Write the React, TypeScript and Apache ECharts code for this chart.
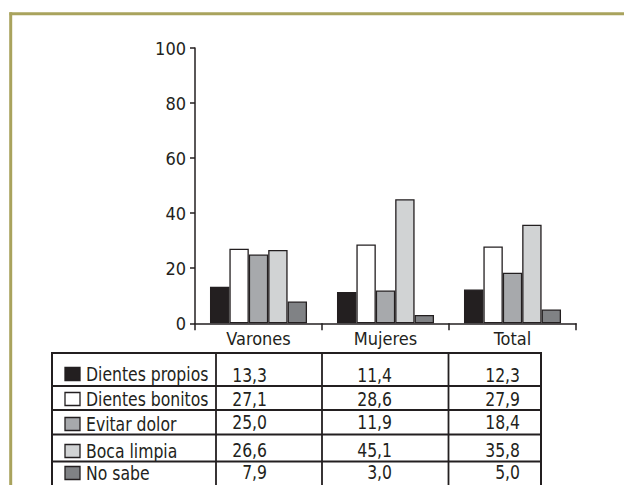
import React, { useEffect, useRef } from "react";
import * as echarts from "echarts";

const categories = ["Varones", "Mujeres", "Total"];
const seriesNames = ["Dientes propios", "Dientes bonitos", "Evitar dolor", "Boca limpia", "No sabe"];
const dientesPropios = [13.3, 11.4, 12.3];
const dientesBonitos = [27.1, 28.6, 27.9];
const evitarDolor = [25.0, 11.9, 18.4];
const bocaLimpia = [26.6, 45.1, 35.8];
const noSabe = [7.9, 3.0, 5.0];
const yTicks = [0, 20, 40, 60, 80, 100];

const FONT = "'Liberation Sans Narrow', 'DejaVu Sans Condensed', 'Arial Narrow', sans-serif";
const INK = "#231f20";
const COLORS = ["#231f20", "#ffffff", "#a7a9ac", "#d1d3d4", "#808285"];
const FRAME = "#a9a35d";

export default function App() {
  const ref = useRef<HTMLDivElement>(null);
  useEffect(() => {
    if (!ref.current) return;
    const chart = echarts.init(ref.current, undefined, { renderer: "svg" });
    const allSeries = [dientesPropios, dientesBonitos, evitarDolor, bocaLimpia, noSabe];

    // table layout
    const tLeft = 52, tTop = 353, tRight = 541, tBottom = 505;
    const colLines = [216, 322, 448.5];
    const rowLines = [386, 410, 434.5, 461.5];
    const labelY = [374, 399, 424, 451, 473];
    const valueY = [375, 399.5, 422, 450, 472];
    const valueX = [267, 392, 520];
    const SX = 0.87;

    const graphics: any[] = [];
    // frame
    graphics.push({ type: "line", shape: { x1: 9.5, y1: 13.7, x2: 624, y2: 13.7 }, style: { stroke: FRAME, lineWidth: 3 }, silent: true });
    graphics.push({ type: "line", shape: { x1: 10.7, y1: 12.2, x2: 10.7, y2: 485 }, style: { stroke: FRAME, lineWidth: 3 }, silent: true });
    // table
    graphics.push({ type: "rect", shape: { x: tLeft, y: tTop, width: tRight - tLeft, height: tBottom - tTop }, style: { fill: "none", stroke: INK, lineWidth: 2 }, silent: true });
    colLines.forEach((x) => graphics.push({ type: "line", shape: { x1: x, y1: tTop, x2: x, y2: tBottom }, style: { stroke: INK, lineWidth: 1.8 }, silent: true }));
    rowLines.forEach((y) => graphics.push({ type: "line", shape: { x1: tLeft, y1: y, x2: tRight, y2: y }, style: { stroke: INK, lineWidth: 1.8 }, silent: true }));
    seriesNames.forEach((name, i) => {
      graphics.push({ type: "rect", shape: { x: 65, y: labelY[i] - 6.5, width: 15, height: 13 }, style: { fill: COLORS[i], stroke: INK, lineWidth: 1.3 }, silent: true });
      graphics.push({ type: "text", x: 86, y: labelY[i], scaleX: SX, style: { text: name, fontFamily: FONT, fontSize: 20, lineHeight: 18, fill: INK, textVerticalAlign: "middle", verticalAlign: "middle" }, silent: true });
      allSeries[i].forEach((v, j) => {
        graphics.push({ type: "text", x: valueX[j], y: valueY[i], scaleX: SX, style: { text: v.toFixed(1).replace(".", ","), fontFamily: FONT, fontSize: 20, lineHeight: 18, fill: INK, align: "right", textAlign: "right", verticalAlign: "middle", textVerticalAlign: "middle" }, silent: true });
      });
    });

    chart.setOption({
      animation: false,
      grid: { left: 195, right: 48, top: 48, bottom: 161.7, containLabel: false },
      xAxis: {
        type: "category",
        data: categories,
        axisLine: { lineStyle: { color: INK, width: 1.5 } },
        axisTick: { show: true, length: 7, lineStyle: { color: INK, width: 1.5 } },
        axisLabel: { color: INK, fontFamily: FONT, fontSize: 18, margin: 6 },
      },
      yAxis: {
        type: "value",
        min: 0,
        max: 100,
        interval: 20,
        axisLine: { show: true, lineStyle: { color: INK, width: 1.5 } },
        axisTick: { show: true, length: 5, lineStyle: { color: INK, width: 1.5 } },
        axisLabel: { color: INK, fontFamily: FONT, fontSize: 18, margin: 9, customValues: yTicks } as any,
        splitLine: { show: false },
      },
      series: seriesNames.map((name, i) => ({
        type: "bar",
        name,
        data: allSeries[i],
        barGap: "0%",
        barCategoryGap: "23.6%",
        itemStyle: { color: COLORS[i], borderColor: INK, borderWidth: 1.3 },
      })),
      graphic: graphics,
    });
    return () => chart.dispose();
  }, []);
  return <div ref={ref} style={{ position: "fixed", left: 0, top: 0, width: 624, height: 485, background: "#fff" }} />;
}
